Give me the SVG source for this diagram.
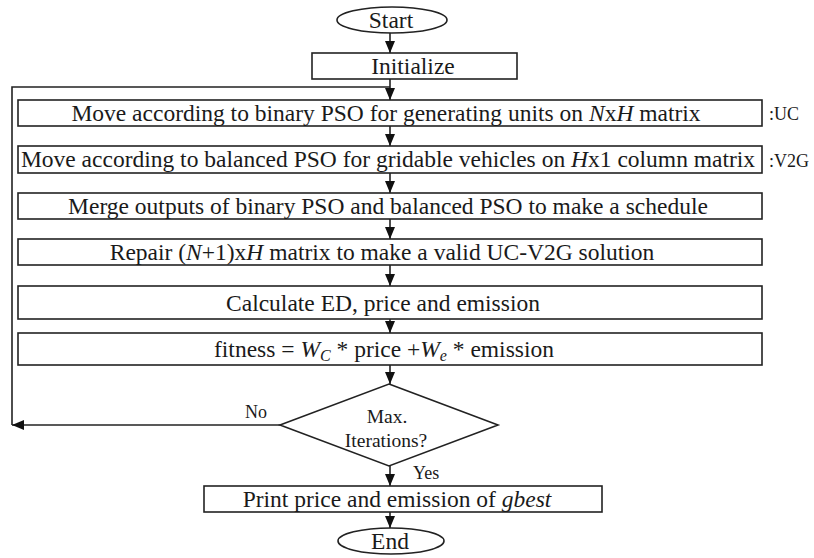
<svg xmlns="http://www.w3.org/2000/svg" width="814" height="558" viewBox="0 0 814 558">
<style>
.box{fill:#fff;stroke:#222;stroke-width:1.6}
.t{font-family:"Liberation Serif","Times New Roman",serif;font-size:23.5px;fill:#1a1a1a;text-anchor:middle}
.s{font-family:"Liberation Serif","Times New Roman",serif;font-size:18px;fill:#1a1a1a}
.d{font-family:"Liberation Serif","Times New Roman",serif;font-size:19.5px;fill:#1a1a1a;text-anchor:middle}
.i{font-style:italic}
.c{fill:none;stroke:#222;stroke-width:1.6}
</style>
<defs>
<marker id="ah" markerUnits="userSpaceOnUse" markerWidth="12" markerHeight="10" refX="12" refY="5" orient="auto">
<path d="M0,0 L12,5 L0,10 z" fill="#111"/>
</marker>
</defs>
<g id="connectors">
<line class="c" x1="390" y1="33" x2="390" y2="53" marker-end="url(#ah)"/>
<line class="c" x1="390" y1="79" x2="390" y2="100" marker-end="url(#ah)"/>
<line class="c" x1="390" y1="126" x2="390" y2="146" marker-end="url(#ah)"/>
<line class="c" x1="390" y1="173" x2="390" y2="193" marker-end="url(#ah)"/>
<line class="c" x1="390" y1="219" x2="390" y2="239" marker-end="url(#ah)"/>
<line class="c" x1="390" y1="265" x2="390" y2="286" marker-end="url(#ah)"/>
<line class="c" x1="390" y1="319" x2="390" y2="333" marker-end="url(#ah)"/>
<line class="c" x1="390" y1="365" x2="390" y2="384" marker-end="url(#ah)"/>
<line class="c" x1="390" y1="466" x2="390" y2="486" marker-end="url(#ah)"/>
<line class="c" x1="390" y1="512" x2="390" y2="528" marker-end="url(#ah)"/>
<line class="c" x1="280" y1="425" x2="12" y2="425" marker-end="url(#ah)"/>
<polyline class="c" points="12,425 12,87 390,87"/>
<text class="s" x="245" y="418">No</text>
<text class="s" x="413" y="479">Yes</text>
</g>
<g id="start">
<ellipse class="box" cx="392" cy="20" rx="55" ry="13"/>
<text class="t" x="391" y="28">Start</text>
</g>
<g id="initialize">
<rect class="box" x="312" y="53" width="205" height="26"/>
<text class="t" x="413" y="74">Initialize</text>
</g>
<g id="uc">
<rect class="box" x="18" y="100" width="744" height="26"/>
<text class="t" x="386" y="121">Move according to binary PSO for generating units on <tspan class="i">N</tspan>x<tspan class="i">H</tspan> matrix</text>
<text class="s" x="769" y="120">:UC</text>
</g>
<g id="v2g">
<rect class="box" x="18" y="146" width="744" height="27"/>
<text class="t" x="388" y="167">Move according to balanced PSO for gridable vehicles on <tspan class="i">H</tspan>x1 column matrix</text>
<text class="s" x="769" y="167">:V2G</text>
</g>
<g id="merge">
<rect class="box" x="18" y="193" width="744" height="26"/>
<text class="t" x="388" y="214">Merge outputs of binary PSO and balanced PSO to make a schedule</text>
</g>
<g id="repair">
<rect class="box" x="18" y="239" width="744" height="26"/>
<text class="t" x="382" y="260">Repair (<tspan class="i">N</tspan>+1)x<tspan class="i">H</tspan> matrix to make a valid UC-V2G solution</text>
</g>
<g id="calculate">
<rect class="box" x="18" y="286" width="744" height="33"/>
<text class="t" x="383" y="311">Calculate ED, price and emission</text>
</g>
<g id="fitness">
<rect class="box" x="18" y="333" width="744" height="32"/>
<text class="t" x="384" y="357">fitness = <tspan class="i">W</tspan><tspan class="i" font-size="16" dy="4">C</tspan><tspan dy="-4"> * price +</tspan><tspan class="i">W</tspan><tspan class="i" font-size="16" dy="4">e</tspan><tspan dy="-4"> * emission</tspan></text>
</g>
<g id="decision">
<polygon class="box" points="389,384 498,425 389,466 280,425"/>
<text class="d" x="387" y="423">Max.</text>
<text class="d" x="386" y="447">Iterations?</text>
</g>
<g id="print">
<rect class="box" x="204" y="486" width="398" height="26"/>
<text class="t" x="397" y="507">Print price and emission of <tspan class="i">gbest</tspan></text>
</g>
<g id="end">
<ellipse class="box" cx="391" cy="541" rx="53" ry="13"/>
<text class="t" x="390" y="549">End</text>
</g>
</svg>
